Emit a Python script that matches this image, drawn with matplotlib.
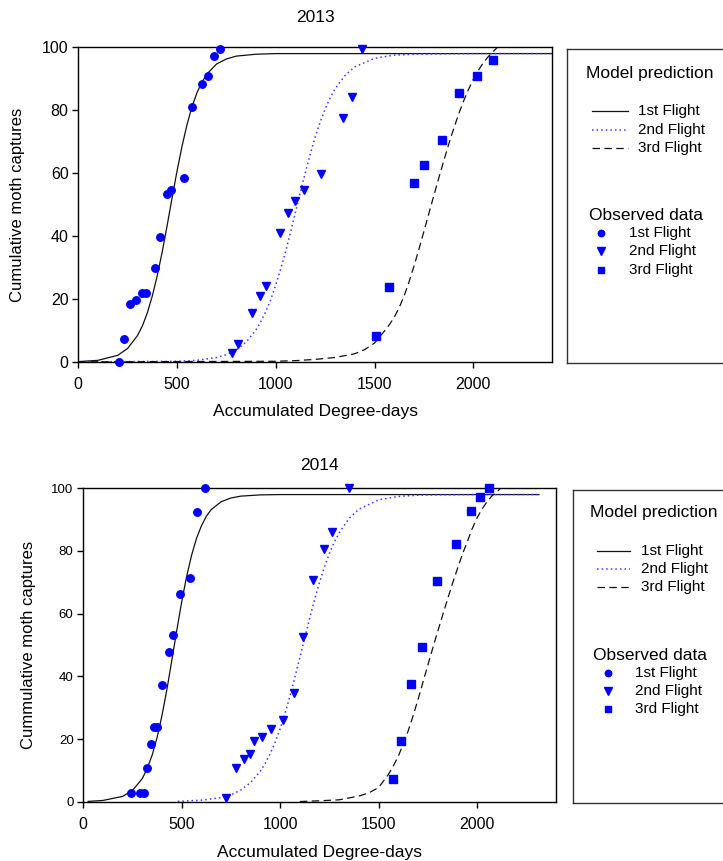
import numpy as np
import matplotlib
matplotlib.use("Agg")
import matplotlib.pyplot as plt

plt.rcParams['font.family'] = ['Liberation Sans', 'DejaVu Sans']

# ---- 2013 observed data ----
obs13_f1_x = [205, 230, 263, 294, 321, 345, 386, 415, 450, 471, 537, 577, 624, 658, 689, 720]
obs13_f1_y = [0, 7.2, 18.5, 19.7, 22, 22, 29.8, 39.7, 53.4, 54.7, 58.4, 80.9, 88.4, 90.9, 97.1, 99.6]
obs13_f2_x = [776, 811, 881, 918, 950, 1021, 1061, 1099, 1142, 1229, 1338, 1385, 1434]
obs13_f2_y = [2.7, 5.8, 15.6, 21, 24.2, 40.9, 47.2, 51.3, 54.7, 59.8, 77.4, 84.1, 99.6]
obs13_f3_x = [1505, 1574, 1699, 1750, 1841, 1927, 2018, 2098]
obs13_f3_y = [8.2, 23.7, 56.9, 62.7, 70.6, 85.5, 90.9, 96]

# ---- 2013 model prediction ----
mod13_f1_x = [0, 100, 200, 250, 300, 325, 350, 375, 400, 425, 450, 475, 500, 525, 550, 575, 600,
              625, 650, 700, 750, 800, 900, 1000, 1500, 2000, 2400]
mod13_f1_y = [0.1, 0.5, 2.1, 4.3, 8.4, 11.5, 15.7, 21.0, 27.5, 35.0, 43.4, 52.2, 60.7, 68.5, 75.3, 81.0, 85.4,
              88.8, 91.4, 94.7, 96.3, 97.2, 97.8, 98, 98, 98, 98]
mod13_f2_x = [0, 500, 600, 700, 750, 800, 850, 900, 925, 950, 975, 1000, 1025, 1050, 1075, 1100, 1125,
              1150, 1175, 1200, 1225, 1250, 1275, 1300, 1350, 1400, 1500, 1600, 1700, 1800, 2000, 2400]
mod13_f2_y = [0, 0.2, 0.5, 1.4, 2.3, 3.8, 6.3, 10.2, 12.9, 16.1, 19.9, 24.5, 29.6, 35.2, 41.3, 47.7, 54.1,
              60.3, 66.2, 71.6, 76.3, 80.4, 83.9, 86.8, 91.0, 93.8, 96.5, 97.5, 97.8, 97.9, 98, 98]
mod13_f3_x = [0, 1000, 1100, 1200, 1300, 1400, 1450, 1500, 1550, 1575, 1600, 1625, 1650, 1675, 1700,
              1725, 1750, 1775, 1800, 1825, 1850, 1875, 1900, 1925, 1950, 1975, 2000, 2025, 2050,
              2075, 2100, 2125]
mod13_f3_y = [0, 0.2, 0.4, 0.8, 1.4, 2.6, 3.9, 6.0, 9.8, 11.8, 14.2, 17.3, 21.0, 25.5, 30.5,
              35.9, 41.5, 47.2, 52.8, 58.4, 63.8, 69.1, 74.0, 78.6, 82.8, 86.5, 89.8, 92.6, 95.0,
              97.0, 98.6, 100.2]

# ---- 2014 observed data ----
obs14_f1_x = [243, 290, 307, 322, 343, 361, 375, 402, 436, 456, 492, 541, 578, 619]
obs14_f1_y = [2.9, 2.9, 2.9, 10.6, 18.4, 23.8, 23.8, 37.2, 47.9, 53.1, 66.2, 71.4, 92.3, 100]
obs14_f2_x = [723, 774, 816, 846, 868, 908, 955, 1013, 1072, 1118, 1165, 1223, 1266, 1350]
obs14_f2_y = [1.1, 10.9, 13.6, 15.1, 19.4, 20.7, 23.3, 26.1, 34.6, 52.7, 70.8, 80.5, 86.1, 100]
obs14_f3_x = [1571, 1614, 1663, 1720, 1796, 1893, 1970, 2015, 2060]
obs14_f3_y = [7.4, 19.4, 37.4, 49.4, 70.3, 82.1, 92.7, 97.1, 100]

# ---- 2014 model prediction ----
mod14_f1_x = [25, 100, 200, 250, 300, 325, 350, 375, 400, 425, 450, 475, 500, 525, 550, 575, 600,
              625, 650, 700, 750, 800, 900, 1000, 2315]
mod14_f1_y = [0.1, 0.4, 1.7, 3.6, 7.4, 10.7, 14.9, 20.5, 27.6, 35.9, 45.2, 54.7, 63.8, 71.9, 78.6, 84.0, 88.0,
              91.1, 93.2, 95.7, 96.9, 97.5, 97.9, 98, 98]
mod14_f2_x = [480, 600, 700, 750, 800, 850, 900, 925, 950, 975, 1000, 1025, 1050, 1075, 1100, 1125,
              1150, 1175, 1200, 1225, 1250, 1275, 1300, 1350, 1400, 1500, 1600, 1700, 1800, 2000, 2315]
mod14_f2_y = [0.1, 0.5, 1.3, 2.2, 3.7, 6.1, 9.8, 12.3, 15.4, 19.0, 23.3, 28.2, 33.7, 39.7, 45.9, 52.3,
              58.5, 64.5, 70, 74.9, 79.2, 82.8, 85.8, 90.4, 93.3, 96.3, 97.4, 97.8, 97.9, 98, 98]
mod14_f3_x = [1100, 1200, 1300, 1400, 1450, 1500, 1550, 1575, 1600, 1625, 1650, 1675, 1700, 1725,
              1750, 1775, 1800, 1825, 1850, 1875, 1900, 1925, 1950, 1975, 2000, 2025, 2050, 2075,
              2100, 2125]
mod14_f3_y = [0.05, 0.3, 0.6, 1.8, 2.8, 4.5, 8.7, 11.4, 14.5, 18.3, 22.5, 27.3, 32.5, 38.0,
              43.5, 48.9, 54.2, 59.4, 64.5, 69.5, 74.2, 78.8, 82.8, 87.0, 90.5, 93.3, 95.6, 97.5,
              98.8, 100.3]

x_ticks = [0, 500, 1000, 1500, 2000]
y_ticks = [0, 20, 40, 60, 80, 100]
flights = ["1st Flight", "2nd Flight", "3rd Flight"]

W, H = 723, 861
fig = plt.figure(figsize=(W / 100, H / 100), dpi=100)

blue = "#0000ff"
line_styles = [dict(color="#111111", lw=0.9, ls="-"),
               dict(color="#3a3aff", lw=1.1, ls=(0, (1, 2))),
               dict(color="#111111", lw=0.9, ls=(0, (6, 3.5)))]
marker_styles = [dict(marker="o", ms=5.4), dict(marker="v", ms=6.2), dict(marker="s", ms=5.4)]


def px_box(l, t, r, b):
    return [l / W, 1 - b / H, (r - l) / W, (b - t) / H]


def draw_panel(box, models, observed, title, ylabel, ytick_size, title_y, xlab_y, ylab_x):
    ax = fig.add_axes(px_box(*box))
    for (mx, my), st in zip(models, line_styles):
        ax.plot(mx, my, zorder=2, **st)
    for (ox, oy), mk in zip(observed, marker_styles):
        ax.plot(ox, oy, ls="none", color=blue, mec=blue, clip_on=False, zorder=3, **mk)
    ax.set_xlim(0, 2400)
    ax.set_ylim(0, 100)
    ax.set_xticks(x_ticks)
    ax.set_yticks(y_ticks)
    ax.tick_params(direction="out", length=4, width=1, colors="black")
    ax.tick_params(axis="x", labelsize=11.5, pad=7)
    ax.tick_params(axis="y", labelsize=ytick_size, pad=3)
    for s in ax.spines.values():
        s.set_linewidth(1.0)
    l, t, r, b = box
    cx = (l + r) / 2 / W
    fig.text(cx, 1 - title_y / H, title, ha="center", va="center", fontsize=12.5)
    fig.text(cx, 1 - xlab_y / H, "Accumulated Degree-days", ha="center", va="center", fontsize=12.5)
    fig.text(ylab_x / W, 1 - (t + b) / 2 / H, ylabel, ha="center", va="center",
             rotation=90, fontsize=12)
    return ax


def draw_legend(l, t, b, pos):
    w = 200
    lg = fig.add_axes(px_box(l, t, l + w, b))
    lg.set_xlim(0, w)
    lg.set_ylim(b - t, 0)
    lg.set_xticks([])
    lg.set_yticks([])
    for s in lg.spines.values():
        s.set_linewidth(1.0)
        s.set_color("#333333")
    lg.text(pos["head_x"], pos["head1_y"], "Model prediction", ha="center", va="center", fontsize=12.5)
    for i, st in enumerate(line_styles):
        y = pos["line_y"][i]
        lg.plot(pos["line_x"], [y, y], **st)
        lg.text(pos["line_tx"], y, flights[i], ha="left", va="center", fontsize=11)
    lg.text(pos["head2_x"], pos["head2_y"], "Observed data", ha="center", va="center", fontsize=12.5)
    for i, mk in enumerate(marker_styles):
        y = pos["mk_y"][i]
        lg.plot([pos["mk_x"]], [y], ls="none", color=blue, mec=blue,
                marker=mk["marker"], ms=mk["ms"] - 0.8)
        lg.text(pos["mk_tx"], y, flights[i], ha="left", va="center", fontsize=11)


draw_panel((78.3, 47.3, 552.3, 361.9),
           [(mod13_f1_x, mod13_f1_y), (mod13_f2_x, mod13_f2_y), (mod13_f3_x, mod13_f3_y)],
           [(obs13_f1_x, obs13_f1_y), (obs13_f2_x, obs13_f2_y), (obs13_f3_x, obs13_f3_y)],
           "2013", "Cumulative moth captures", 11.5, 18, 411, 18)

draw_panel((83.3, 488.3, 555.7, 801.7),
           [(mod14_f1_x, mod14_f1_y), (mod14_f2_x, mod14_f2_y), (mod14_f3_x, mod14_f3_y)],
           [(obs14_f1_x, obs14_f1_y), (obs14_f2_x, obs14_f2_y), (obs14_f3_x, obs14_f3_y)],
           "2014", "Cummulative moth captures", 9.5, 466, 852, 29)

draw_legend(567.3, 49, 362.7, dict(head_x=82, head1_y=24.3, line_x=[24.4, 61], line_y=[62, 81, 99.3],
                                   line_tx=70.4, head2_x=78.7, head2_y=166, mk_x=33.7,
                                   mk_y=[183.7, 202, 221], mk_tx=61.7))
draw_legend(572.7, 490, 802.7, dict(head_x=80.6, head1_y=22.7, line_x=[24, 57.3], line_y=[60.7, 79.3, 97.3],
                                    line_tx=68.3, head2_x=77.3, head2_y=165, mk_x=35,
                                    mk_y=[182.7, 201, 219.3], mk_tx=62.3))

fig.savefig("out.png", dpi=100)
